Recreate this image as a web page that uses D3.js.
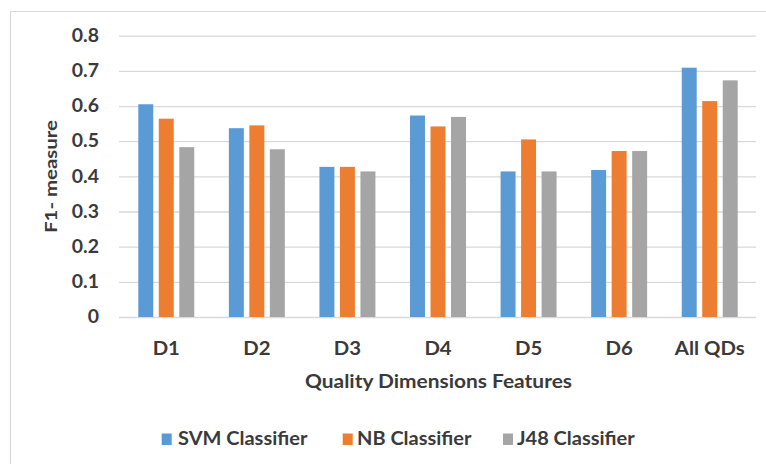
<!DOCTYPE html>
<html><head><meta charset="utf-8">
<script src="https://cdn.jsdelivr.net/npm/d3@7"></script>
<style>body{margin:0;background:#fff}svg{display:block}text{font-family:Lato,"Open Sans",sans-serif;font-weight:bold;fill:#3a3a3a}</style>
</head><body><svg id="c" width="766" height="464"></svg>
<script>
const categories = ["D1","D2","D3","D4","D5","D6","All QDs"];
const seriesNames = ["SVM Classifier","NB Classifier","J48 Classifier"];
const svmValues = [0.605,0.537,0.427,0.573,0.414,0.418,0.709];
const nbValues  = [0.564,0.545,0.427,0.542,0.505,0.472,0.614];
const j48Values = [0.483,0.477,0.414,0.569,0.414,0.472,0.673];
const yTicks = [0,0.1,0.2,0.3,0.4,0.5,0.6,0.7,0.8];
const colors = ["#5B9BD5","#ED7D31","#A5A5A5"];

const series = [svmValues, nbValues, j48Values];
const svg = d3.select("#c");
svg.append("path").attr("d","M10.5,464 V11.5 H766").attr("fill","none").attr("stroke","#d9d9d9").attr("stroke-width",1.2);

// horizontally widen a text selection to mimic the reference's wider glyphs
function widen(sel, f){
  sel.each(function(){
    const w = this.getComputedTextLength();
    d3.select(this).attr("textLength", w*f).attr("lengthAdjust","spacingAndGlyphs");
  });
}

const pL=119, pR=756, pT=35.7, pB=317;
const y = d3.scaleLinear().domain([0,0.8]).range([pB, pT]);
const x = d3.scaleBand().domain(categories).range([pL,757]).paddingInner(0.382).paddingOuter(0.213);
const xs = d3.scaleBand().domain(d3.range(3)).range([0, x.bandwidth()]).paddingInner(0.27);

const yAxis = d3.axisLeft(y).tickValues(yTicks).tickSize(-(pR-pL)).tickFormat(d=>String(+d.toFixed(1)));
const ga = svg.append("g").attr("transform",`translate(${pL},0)`).call(yAxis);
ga.select(".domain").remove();
ga.selectAll(".tick line").attr("stroke","#d9d9d9").attr("stroke-width",1.3);
ga.selectAll(".tick text").attr("x",-20).attr("font-size",18).style("font-family","Lato").attr("fill","#3a3a3a");
widen(ga.selectAll(".tick text"), 1.08);

categories.forEach((c,i)=>{
  series.forEach((s,k)=>{
    svg.append("rect").attr("x",x(c)+xs(k)).attr("width",xs.bandwidth())
      .attr("y",y(s[i])).attr("height",y(0)-y(s[i])).attr("fill",colors[k]);
  });
});

const xAxis = d3.axisBottom(x).tickSize(0).tickPadding(0);
const gx = svg.append("g").attr("transform",`translate(0,${pB})`).call(xAxis);
gx.select(".domain").remove();
gx.selectAll(".tick text").attr("y",37.5).attr("dy",0).attr("font-size",18).style("font-family","Lato").attr("fill","#3a3a3a");
widen(gx.selectAll(".tick text"), 1.13);

svg.append("text").attr("x",438.5).attr("y",388.3).attr("text-anchor","middle").attr("font-size",18)
  .attr("textLength",267).attr("lengthAdjust","spacingAndGlyphs").text("Quality Dimensions Features");
svg.append("text").attr("transform","translate(56.5,176.5) rotate(-90)").attr("text-anchor","middle").attr("font-size",17)
  .attr("textLength",113).attr("lengthAdjust","spacingAndGlyphs").text("F1- measure");

const legSq = [161.7,342.7,503];
const legTx = [178,357,517];
seriesNames.forEach((n,k)=>{
  svg.append("rect").attr("x",legSq[k]).attr("y",433.5).attr("width",10).attr("height",11.5).attr("fill",colors[k]);
  const t = svg.append("text").attr("x",legTx[k]).attr("y",445.3).attr("font-size",18).text(n);
  widen(t, 1.11);
});
</script></body></html>
